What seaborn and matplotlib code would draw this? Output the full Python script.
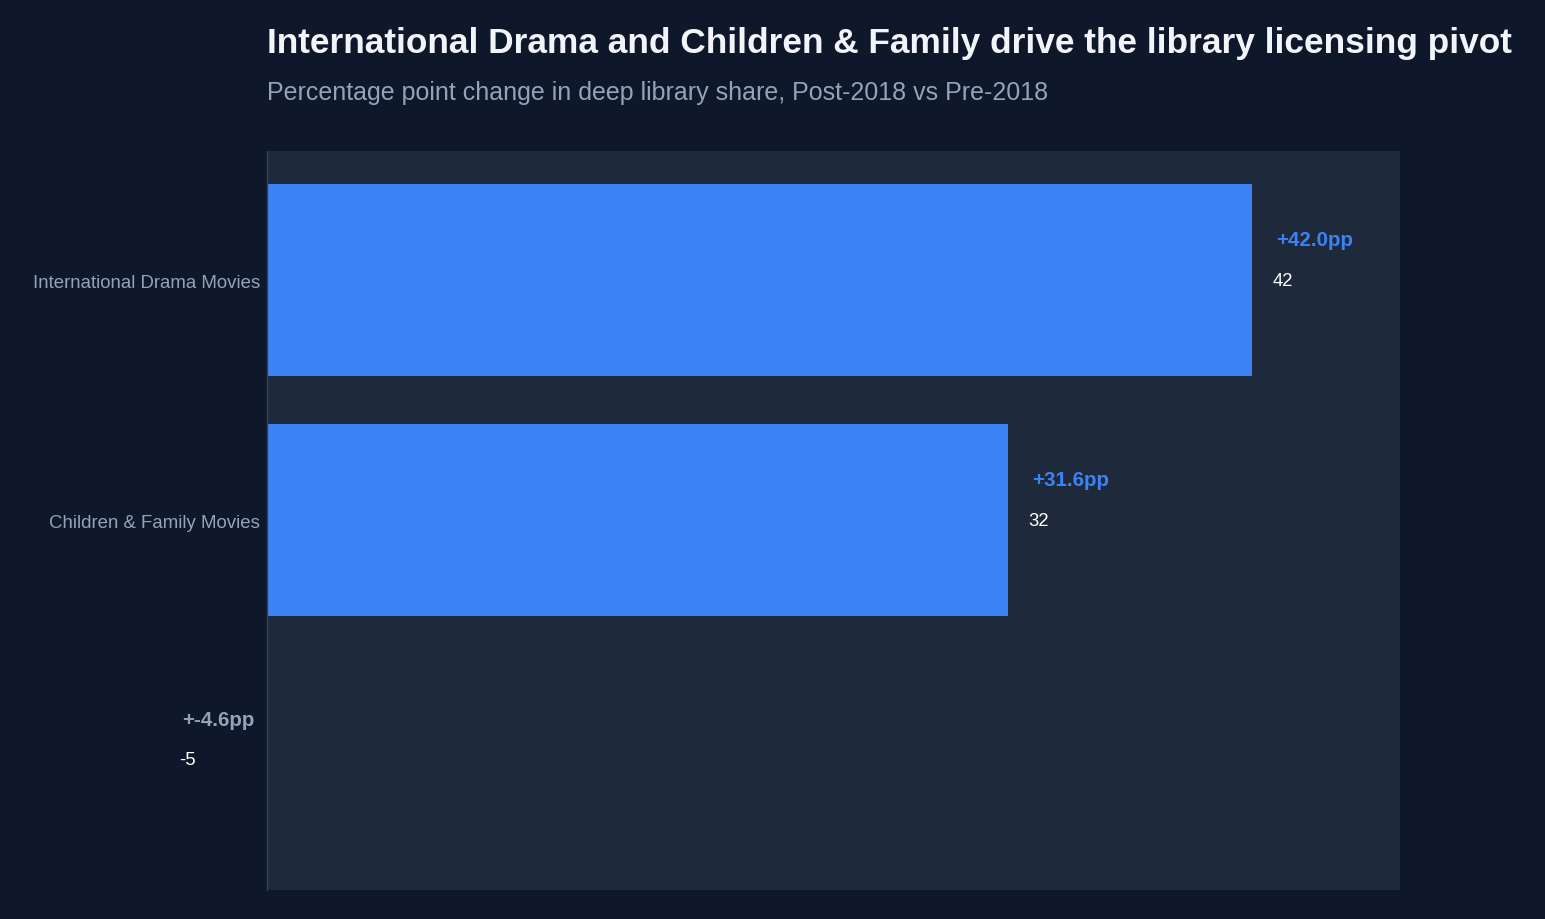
import matplotlib
matplotlib.use("Agg")
import matplotlib.pyplot as plt
import seaborn as sns
import pandas as pd

sns.set_style("dark")
plt.rcParams["font.family"] = ["Liberation Sans", "DejaVu Sans"]

# Data
categories = ["International Drama Movies", "Children & Family Movies", ""]
change_pp = [42.0, 31.6, -4.6]

df = pd.DataFrame({"genre": categories, "change": change_pp})

BG = "#0f172a"
PANEL = "#1e293b"
BLUE = "#3b82f6"
MUTED = "#94a3b8"

fig = plt.figure(figsize=(15.45, 9.2), dpi=100, facecolor=BG)
ax = fig.add_axes([267 / 1545, 29.5 / 920, 1133 / 1545, 739 / 920])
ax.set_facecolor(PANEL)

sns.barplot(data=df, x="change", y="genre", color=BLUE, saturation=1, width=0.8,
            linewidth=0, ax=ax)

ax.set_xlim(0, max(change_pp) * 1.15)
ax.set_ylim(2.54, -0.54)

# value labels
for i, v in enumerate(change_pp):
    col = BLUE if v > 0 else MUTED
    ax.text(v + 1.0, i - 0.17, f"+{v:.1f}pp", color=col, fontsize=14.8,
            fontweight="bold", ha="left", va="center", clip_on=False)
    ax.text(v + 0.85, i, f"{v:.0f}", color="white", fontsize=13.3,
            ha="left", va="center", clip_on=False)

ax.set_xlabel("")
ax.set_ylabel("")
ax.set_xticks([])
ax.tick_params(axis="y", colors=MUTED, labelsize=13.4, length=0, pad=5)
for s in ["top", "right", "bottom"]:
    ax.spines[s].set_visible(False)
ax.spines["left"].set_visible(True)
ax.spines["left"].set_color("#334155")
ax.spines["left"].set_linewidth(1)
ax.grid(False)

fig.text(267 / 1545, 1 - 44 / 920, "International Drama and Children & Family drive the library licensing pivot",
         color="#f1f5f9", fontsize=25.4, fontweight="bold", ha="left", va="center")
fig.text(267 / 1545, 1 - 93 / 920, "Percentage point change in deep library share, Post-2018 vs Pre-2018",
         color=MUTED, fontsize=18, ha="left", va="center")

fig.savefig("out.png", facecolor=BG)
